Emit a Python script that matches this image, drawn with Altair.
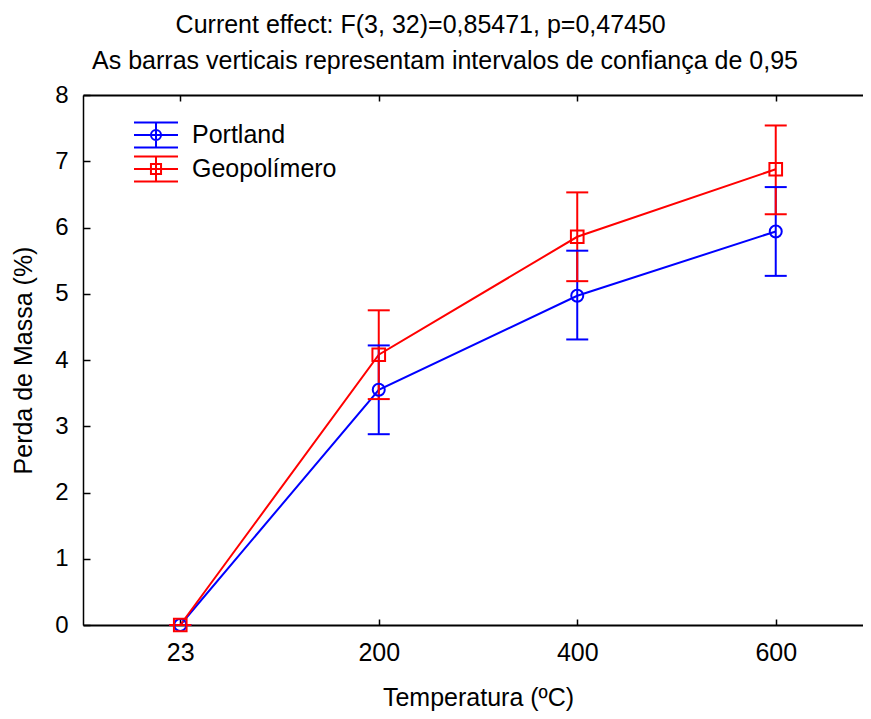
import altair as alt
import pandas as pd

# ---------------- data ----------------
TEMPS = ["23", "200", "400", "600"]
SERIES = ["Portland", "Geopolímero"]
PORTLAND_MEAN = [0.0, 3.55, 4.97, 5.94]
PORTLAND_LO = [0.0, 2.88, 4.31, 5.27]
PORTLAND_HI = [0.0, 4.22, 5.65, 6.61]
GEO_MEAN = [0.0, 4.08, 5.86, 6.88]
GEO_LO = [0.0, 3.41, 5.19, 6.20]
GEO_HI = [0.0, 4.75, 6.53, 7.54]
Y_TICKS = list(range(0, 9))
RIGHT_TICKS = list(range(0, 12))
TITLE = "Current effect: F(3, 32)=0,85471, p=0,47450"
SUBTITLE = "As barras verticais representam intervalos de confiança de 0,95"
X_TITLE = "Temperatura (ºC)"
Y_TITLE = "Perda de Massa (%)"
COLORS = ["#0000ff", "#ff0000"]

FONT = "Liberation Sans, Arial, sans-serif"

rows = []
for s, means, los, his in [
    (SERIES[0], PORTLAND_MEAN, PORTLAND_LO, PORTLAND_HI),
    (SERIES[1], GEO_MEAN, GEO_LO, GEO_HI),
]:
    for i, t in enumerate(TEMPS):
        rows.append({"Temp": t, "idx": i, "Series": s, "Mean": means[i],
                     "Lo": los[i], "Hi": his[i]})
df = pd.DataFrame(rows)
base = alt.Chart(df)

W, H = 790, 530

xscale = alt.Scale(type="point", padding=0.49, domain=TEMPS)
yscale = alt.Scale(domain=[0, 8], nice=False, zero=False)
cscale = alt.Scale(domain=SERIES, range=COLORS)

x_main = alt.X("Temp:N", sort=TEMPS, scale=xscale,
               axis=alt.Axis(title=X_TITLE, labelAngle=0, ticks=False, tickSize=0,
                             domain=True, domainColor="black", domainWidth=2,
                             labelFontSize=25, labelFont=FONT, labelColor="black",
                             labelPadding=15, titleFontSize=25, titleFont=FONT,
                             titleColor="black", titleFontWeight="normal",
                             titlePadding=20, grid=False))
y_main = alt.Y("Mean:Q", scale=yscale,
               axis=alt.Axis(title=Y_TITLE, values=Y_TICKS, format="d", ticks=False,
                             tickSize=0, domain=True, domainColor="black",
                             domainWidth=1.5, labelFontSize=24, labelFont=FONT,
                             labelColor="black", labelPadding=15, titleFontSize=25,
                             titleFont=FONT, titleColor="black",
                             titleFontWeight="normal", titlePadding=18, grid=False))
color_enc = alt.Color("Series:N", scale=cscale)

# legend glyphs (error-bar glyph with marker), unit coords scaled by sqrt(size)/2
GLYPH_P = ("M-1.571,-0.893H1.571M-1.571,0H1.571M-1.571,0.893H1.571"
           "M0,-0.893V0.893M-0.36,0A0.36,0.36,0,1,0,0.36,0A0.36,0.36,0,1,0,-0.36,0")
GLYPH_G = ("M-1.571,-0.893H1.571M-1.571,0H1.571M-1.571,0.893H1.571"
           "M0,-0.893V0.893M-0.36,-0.36H0.36V0.36H-0.36Z")
leg = alt.Legend(title=None, orient="none", legendX=58, legendY=25,
                 symbolSize=784, symbolStrokeWidth=2, symbolOpacity=1,
                 symbolFillColor="transparent", labelFontSize=25,
                 labelFont=FONT, labelColor="black", labelOffset=21,
                 rowPadding=0, padding=0, labelLimit=400)
legend_layer = base.transform_filter("false").mark_point(
    filled=False, strokeWidth=2, opacity=1).encode(
    x=x_main, y=y_main,
    color=alt.Color("Series:N", scale=cscale, legend=leg),
    shape=alt.Shape("Series:N", scale=alt.Scale(domain=SERIES, range=[GLYPH_P, GLYPH_G]),
                    legend=leg))

lines = base.mark_line(strokeWidth=2).encode(
    x=alt.X("Temp:N", sort=TEMPS), y=alt.Y("Mean:Q"), color=color_enc,
    order=alt.Order("idx:Q"))

bars = base.mark_rule(strokeWidth=2).encode(
    x=alt.X("Temp:N", sort=TEMPS), y=alt.Y("Lo:Q"), y2="Hi:Q", color=color_enc)
caps_lo = base.mark_point(shape="stroke", filled=False, size=484, strokeWidth=2,
                          opacity=1).encode(
    x=alt.X("Temp:N", sort=TEMPS), y=alt.Y("Lo:Q"), color=color_enc)
caps_hi = base.mark_point(shape="stroke", filled=False, size=484, strokeWidth=2,
                          opacity=1).encode(
    x=alt.X("Temp:N", sort=TEMPS), y=alt.Y("Hi:Q"), color=color_enc)

pts_p = base.transform_filter(alt.datum.Series == SERIES[0]).mark_point(
    shape="circle", filled=False, size=144, strokeWidth=2, opacity=1).encode(
    x=alt.X("Temp:N", sort=TEMPS), y=alt.Y("Mean:Q"), color=color_enc)
pts_g = base.transform_filter(alt.datum.Series == SERIES[1]).mark_point(
    shape="square", filled=False, size=160, strokeWidth=2, opacity=1).encode(
    x=alt.X("Temp:N", sort=TEMPS), y=alt.Y("Mean:Q"), color=color_enc)

main = alt.layer(legend_layer, lines, bars, caps_lo, caps_hi, pts_p, pts_g)

# inward tick decorations (axes only, invisible marks)
def tick_axis_x(orient, domain, size):
    return base.mark_point(opacity=0).encode(
        x=alt.X("Temp:N", sort=TEMPS,
                axis=alt.Axis(orient=orient, offset=-H, labels=False, title=None,
                              domain=domain, domainColor="black", domainWidth=2,
                              ticks=True, tickSize=size, tickWidth=1.5,
                              tickColor="black", grid=False)))

def tick_axis_y(orient, dom, values, size):
    return base.mark_point(opacity=0).encode(
        y=alt.Y("Mean:Q", scale=alt.Scale(domain=dom, nice=False, zero=False),
                axis=alt.Axis(orient=orient, offset=-W, labels=False, title=None,
                              values=values, domain=False, ticks=True, tickSize=size,
                              tickWidth=1.5, tickColor="black", grid=False)))

tx_bottom = tick_axis_x("top", False, 6)
tx_top = tick_axis_x("bottom", True, 6)
ty_left = tick_axis_y("right", [0, 8], Y_TICKS, 7)
ty_right = tick_axis_y("left", [0, 11], RIGHT_TICKS, 7)

chart = alt.layer(main, tx_bottom, tx_top, ty_left, ty_right).resolve_scale(
    y="independent").resolve_axis(x="independent", y="independent").properties(
    width=W, height=H,
    autosize=alt.AutoSizeParams(type="none"),
    padding={"left": 75, "top": 87, "right": -10, "bottom": 86},
    title=alt.TitleParams(text=TITLE + "\u00a0" * 7 + "\u200b", subtitle=SUBTITLE,
                          fontSize=25, subtitleFontSize=25, font=FONT,
                          subtitleFont=FONT, fontWeight="normal", color="black",
                          subtitleColor="black", anchor="middle", dx=-33,
                          offset=9, subtitlePadding=11),
).configure_view(stroke=None).configure(background="white")

chart.save("out.html", embed_options={"renderer": "svg", "actions": False})
